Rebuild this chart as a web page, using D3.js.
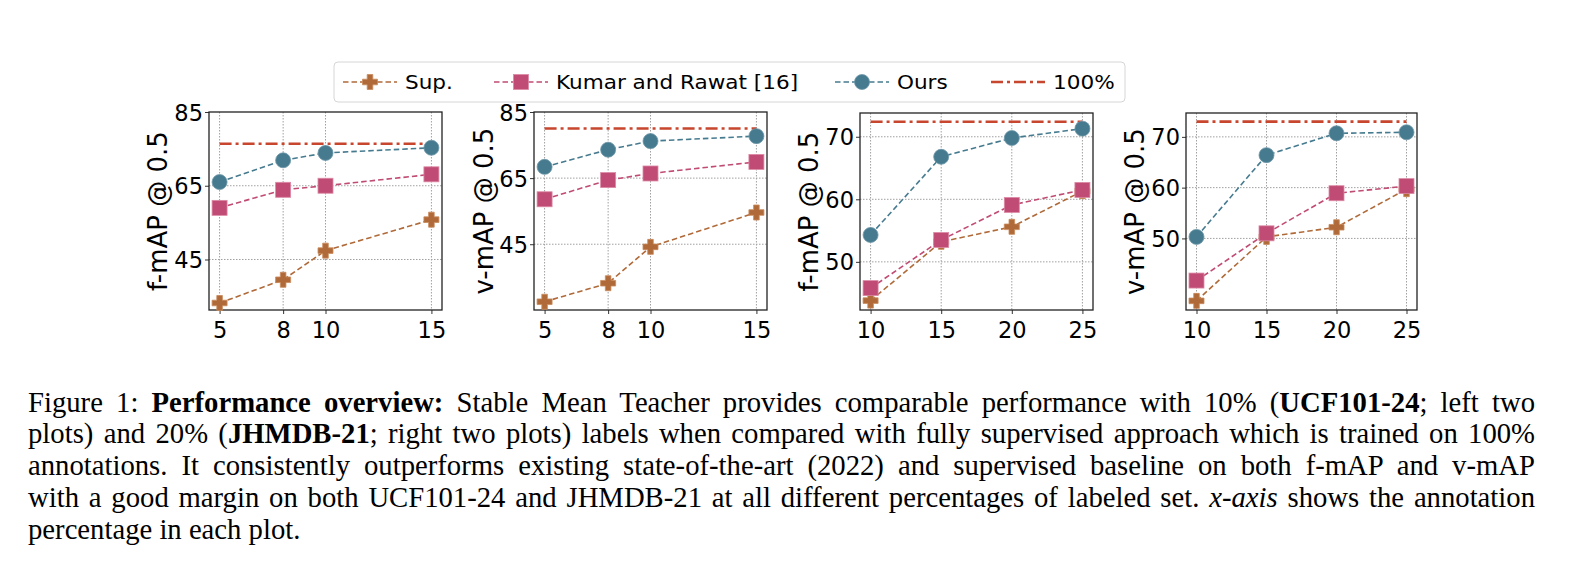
<!DOCTYPE html>
<html>
<head>
<meta charset="utf-8">
<style>
body { margin: 0; background: #fff; }
svg { display: block; }
.tick text { font-family: "DejaVu Sans", sans-serif; font-size: 22.5px; fill: #000; }
.ylabel { font-family: "DejaVu Sans", sans-serif; font-size: 26px; fill: #000; }
.legend text { font-family: "DejaVu Sans", sans-serif; font-size: 19.6px; fill: #000; }
.caption { font-family: "Liberation Serif", "Times New Roman", serif; font-size: 28.7px; fill: #000; }
</style>
</head>
<body>
<script src="https://cdnjs.cloudflare.com/ajax/libs/d3/7.8.5/d3.min.js"></script>
<script>
// x-axis: annotation percentage
const xUcf = [5, 8, 10, 15];
const xJh = [10, 15, 20, 25];

// UCF101-24, f-mAP
const supUcfF = [33.2, 39.5, 47.4, 55.8];
const kumarUcfF = [59.0, 63.9, 65.0, 68.1];
const oursUcfF = [66.0, 71.9, 73.9, 75.3];
const fullUcfF = 76.4;

// UCF101-24, v-mAP
const supUcfV = [27.6, 33.2, 44.2, 54.6];
const kumarUcfV = [58.6, 64.4, 66.4, 69.9];
const oursUcfV = [68.4, 73.6, 76.2, 77.7];
const fullUcfV = 80.0;

// JHMDB-21, f-mAP
const supJhF = [43.8, 53.2, 55.6, 61.3];
const kumarJhF = [45.8, 53.5, 59.1, 61.5];
const oursJhF = [54.3, 66.8, 69.8, 71.3];
const fullJhF = 72.4;

// JHMDB-21, v-mAP
const supJhV = [37.7, 50.3, 52.2, 59.7];
const kumarJhV = [41.7, 51.0, 58.9, 60.3];
const oursJhV = [50.3, 66.4, 70.7, 70.9];
const fullJhV = 73.0;

const yTicksUcf = [45, 65, 85];
const yTicksJh = [50, 60, 70];
const legendLabels = ['Sup.', 'Kumar and Rawat [16]', 'Ours', '100%'];

const colors = {sup: '#b06a39', kumar: '#c04b74', ours: '#467b8f', full: '#c8452e'};
const edges = {sup: '#c98a5c', kumar: '#dc8aa6', ours: '#6d97a8'};

const panels = [
    {left: 209, right: 442, top: 112, bottom: 310, xs: xUcf, xdom: [4.5, 15.5], ydom: [31.3, 85], yticks: yTicksUcf,
     label: 'f-mAP @ 0.5', labelX: 158, sup: supUcfF, kumar: kumarUcfF, ours: oursUcfF, full: fullUcfF},
    {left: 534, right: 767, top: 112, bottom: 310, xs: xUcf, xdom: [4.5, 15.5], ydom: [25.1, 85], yticks: yTicksUcf,
     label: 'v-mAP @ 0.5', labelX: 484, sup: supUcfV, kumar: kumarUcfV, ours: oursUcfV, full: fullUcfV},
    {left: 860, right: 1093, top: 113, bottom: 310, xs: xJh, xdom: [9.25, 25.75], ydom: [42.3, 73.8], yticks: yTicksJh,
     label: 'f-mAP @ 0.5', labelX: 809, sup: supJhF, kumar: kumarJhF, ours: oursJhF, full: fullJhF},
    {left: 1186, right: 1417, top: 113, bottom: 310, xs: xJh, xdom: [9.25, 25.75], ydom: [35.9, 74.7], yticks: yTicksJh,
     label: 'v-mAP @ 0.5', labelX: 1135, sup: supJhV, kumar: kumarJhV, ours: oursJhV, full: fullJhV}
];

const svg = d3.select('body').append('svg').attr('width', 1574).attr('height', 573);

// filled plus marker (matplotlib 'P')
function plusPath(h, t){
    return `M${-t},${-h}H${t}V${-t}H${h}V${t}H${t}V${h}H${-t}V${t}H${-h}V${-t}H${-t}Z`;
}

function drawMarker(g, kind, x, y){
    if (kind === 'sup'){
        g.append('path').attr('d', plusPath(7.5, 2.8)).attr('transform', `translate(${x},${y})`)
            .attr('fill', colors.sup).attr('stroke', edges.sup).attr('stroke-width', 0.8);
    }
    else if (kind === 'kumar'){
        g.append('rect').attr('x', x - 7.5).attr('y', y - 7.5).attr('width', 15).attr('height', 15)
            .attr('fill', colors.kumar).attr('stroke', edges.kumar).attr('stroke-width', 0.8);
    }
    else {
        g.append('circle').attr('cx', x).attr('cy', y).attr('r', 7.5)
            .attr('fill', colors.ours).attr('stroke', edges.ours).attr('stroke-width', 0.8);
    }
}

for (const p of panels){
    const x = d3.scaleLinear().domain(p.xdom).range([p.left, p.right]);
    const y = d3.scaleLinear().domain(p.ydom).range([p.bottom, p.top]);
    const g = svg.append('g');

    // grid
    g.append('g').selectAll('line').data(p.xs).join('line')
        .attr('x1', d => x(d)).attr('x2', d => x(d)).attr('y1', p.top).attr('y2', p.bottom)
        .attr('stroke', '#a0a0a0').attr('stroke-width', 1).attr('stroke-dasharray', '1.5,1.5');
    g.append('g').selectAll('line').data(p.yticks.filter(v => y(v) > p.top + 1)).join('line')
        .attr('x1', p.left).attr('x2', p.right).attr('y1', d => y(d)).attr('y2', d => y(d))
        .attr('stroke', '#a0a0a0').attr('stroke-width', 1).attr('stroke-dasharray', '1.5,1.5');

    // axes
    const xAxis = g.append('g').attr('transform', `translate(0,${p.bottom})`)
        .call(d3.axisBottom(x).tickValues(p.xs).tickSize(4).tickPadding(3).tickFormat(d3.format('d')));
    const yAxis = g.append('g').attr('transform', `translate(${p.left},0)`)
        .call(d3.axisLeft(y).tickValues(p.yticks).tickSize(4).tickPadding(2).tickFormat(d3.format('d')));
    for (const a of [xAxis, yAxis]){
        a.select('.domain').remove();
        a.selectAll('.tick line').attr('stroke', '#333');
    }
    xAxis.selectAll('.tick text').attr('dy', '0.95em');
    yAxis.selectAll('.tick text').attr('dy', '0.36em');

    g.append('rect').attr('x', p.left).attr('y', p.top).attr('width', p.right - p.left).attr('height', p.bottom - p.top)
        .attr('fill', 'none').attr('stroke', '#222').attr('stroke-width', 1.3);

    g.append('text').attr('class', 'ylabel')
        .attr('transform', `translate(${p.labelX},${(p.top + p.bottom) / 2}) rotate(-90)`)
        .attr('text-anchor', 'middle').attr('dy', '0.35em').text(p.label);

    // 100% reference line
    const xExt = d3.extent(p.xs);
    g.append('line').attr('x1', x(xExt[0])).attr('x2', x(xExt[1])).attr('y1', y(p.full)).attr('y2', y(p.full))
        .attr('stroke', colors.full).attr('stroke-width', 2.6).attr('stroke-dasharray', '12,4,3,4');

    const line = d3.line().x(d => x(d[0])).y(d => y(d[1]));
    for (const kind of ['sup', 'kumar', 'ours']){
        const pts = p.xs.map((v, i) => [v, p[kind][i]]);
        g.append('path').attr('d', line(pts)).attr('fill', 'none')
            .attr('stroke', colors[kind]).attr('stroke-width', 1.6).attr('stroke-dasharray', '5.5,3');
        for (const pt of pts) drawMarker(g, kind, x(pt[0]), y(pt[1]));
    }
}

// legend
const lg = svg.append('g').attr('class', 'legend');
lg.append('rect').attr('x', 334).attr('y', 62).attr('width', 791).attr('height', 40).attr('rx', 4)
    .attr('fill', '#fff').attr('stroke', '#d6d6d6').attr('stroke-width', 1);
const legendX = [343, 494, 835, 991];
const legendKinds = ['sup', 'kumar', 'ours', 'full'];
legendLabels.forEach((lab, i) => {
    const x0 = legendX[i], yc = 82, kind = legendKinds[i];
    if (kind === 'full'){
        lg.append('line').attr('x1', x0).attr('x2', x0 + 54).attr('y1', yc).attr('y2', yc)
            .attr('stroke', colors.full).attr('stroke-width', 2.6).attr('stroke-dasharray', '12,4,3,4');
    }
    else {
        lg.append('line').attr('x1', x0).attr('x2', x0 + 54).attr('y1', yc).attr('y2', yc)
            .attr('stroke', colors[kind]).attr('stroke-width', 1.6).attr('stroke-dasharray', '5.5,3');
        drawMarker(lg, kind, x0 + 27, yc);
    }
    lg.append('text').attr('transform', `translate(${x0 + 62},${yc}) scale(1.1,1)`).attr('dy', '0.36em').text(lab);
});

// caption, justified lines
const capLines = [
    [['Figure 1: ', ''], ['Performance overview:', 'b'], [' Stable Mean Teacher provides comparable performance with 10% (', ''], ['UCF101-24', 'b'], ['; left two', '']],
    [['plots) and 20% (', ''], ['JHMDB-21', 'b'], ['; right two plots) labels when compared with fully supervised approach which is trained on 100%', '']],
    [['annotations. It consistently outperforms existing state-of-the-art (2022) and supervised baseline on both f-mAP and v-mAP', '']],
    [['with a good margin on both UCF101-24 and JHMDB-21 at all different percentages of labeled set. ', ''], ['x-axis', 'i'], [' shows the annotation', '']],
    [['percentage in each plot.', '']]
];
const capLeft = 28, capRight = 1535, capTop = 411.5, capStep = 31.8;
capLines.forEach((parts, i) => {
    const t = svg.append('text').attr('class', 'caption').attr('x', capLeft).attr('y', capTop + i * capStep);
    for (const [s, st] of parts){
        const ts = t.append('tspan').text(s);
        if (st === 'b') ts.attr('font-weight', 'bold');
        if (st === 'i') ts.attr('font-style', 'italic');
    }
    if (i < capLines.length - 1){
        const w = t.node().getComputedTextLength();
        const target = capRight - capLeft;
        const spaces = parts.map(d => d[0]).join('').split(' ').length - 1;
        if (w < target) t.attr('word-spacing', (target - w) / spaces);
        else t.attr('textLength', target).attr('lengthAdjust', 'spacingAndGlyphs');
    }
});
</script>
</body>
</html>
